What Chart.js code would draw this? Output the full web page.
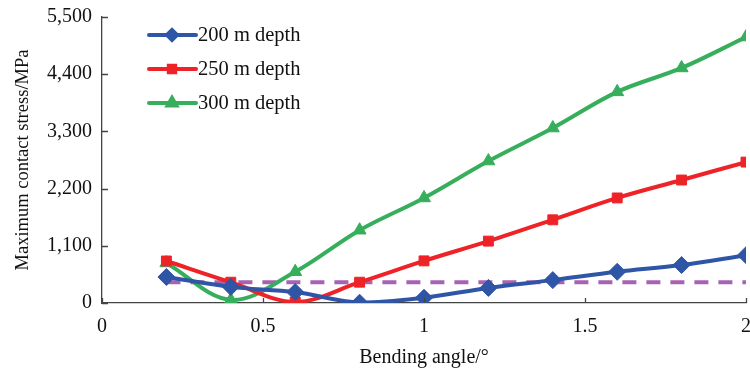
<!DOCTYPE html>
<html>
<head>
<meta charset="utf-8">
<script src="https://cdn.jsdelivr.net/npm/chart.js@4/dist/chart.umd.min.js"></script>
<style>
  html, body { margin: 0; padding: 0; background: #fff; overflow: hidden; }
  #wrap { width: 750px; height: 372px; overflow: hidden; position: relative; }
  #box { width: 770px; height: 372px; position: absolute; left: 0; top: 0; }
</style>
</head>
<body>
<div id="wrap"><div id="box"><canvas id="c"></canvas></div></div>
<script>
const angles = [0.2, 0.4, 0.6, 0.8, 1.0, 1.2, 1.4, 1.6, 1.8, 2.0];
const depth200 = [500, 310, 210, 5, 100, 290, 440, 600, 730, 920];
const depth250 = [808, 400, 20, 400, 810, 1190, 1600, 2020, 2365, 2710];
const depth300 = [770, 60, 600, 1400, 2020, 2730, 3365, 4060, 4520, 5115];
const limitX = [0.2, 2.0];
const limitY = [400, 400];
const seriesNames = ['200 m depth', '250 m depth', '300 m depth'];
const xTicks = [0, 0.5, 1, 1.5, 2];
const yTicks = [0, 1100, 2200, 3300, 4400, 5500];

const FONT = "'Liberation Serif', 'Times New Roman', serif";
const BLUE = '#2f55a6', RED = '#ee2327', GREEN = '#37ae5b', PURPLE = '#a862b4';

const pts = (xs, ys) => xs.map((x, i) => ({ x, y: ys[i] }));

const legendItems = [
  { name: seriesNames[0], color: BLUE, style: 'rectRot', r: 5 },
  { name: seriesNames[1], color: RED, style: 'rect', r: 4.5 },
  { name: seriesNames[2], color: GREEN, style: 'triangle', r: 5 }
];

const customLegend = {
  id: 'customLegend',
  afterDraw(chart) {
    const ctx = chart.ctx;
    ctx.save();
    legendItems.forEach((it, i) => {
      const y = 35 + i * 34;
      ctx.strokeStyle = it.color;
      ctx.lineWidth = 4;
      ctx.lineCap = 'round';
      ctx.beginPath();
      ctx.moveTo(149, y);
      ctx.lineTo(196, y);
      ctx.stroke();
      Chart.helpers.drawPoint(ctx, { pointStyle: it.style, radius: it.r, borderWidth: 1, rotation: 0 }, 172, y);
      ctx.fillStyle = it.color;
      ctx.fill();
      ctx.fillStyle = '#111';
      ctx.font = '20.5px ' + FONT;
      ctx.textBaseline = 'middle';
      ctx.textAlign = 'left';
      ctx.fillText(it.name, 198, y + 1);
    });
    ctx.restore();
  }
};

const innerTicks = {
  id: 'innerTicks',
  afterDatasetsDraw(chart) {
    const ctx = chart.ctx;
    const xs = chart.scales.x, ys = chart.scales.y;
    const a = chart.chartArea;
    ctx.save();
    ctx.strokeStyle = '#444';
    ctx.lineWidth = 1.3;
    ctx.beginPath();
    xTicks.forEach(v => {
      const px = Math.round(xs.getPixelForValue(v)) + 0.5;
      ctx.moveTo(px, a.bottom);
      ctx.lineTo(px, a.bottom - 5);
    });
    yTicks.forEach(v => {
      const py = Math.round(ys.getPixelForValue(v)) + 0.5;
      ctx.moveTo(a.left, py);
      ctx.lineTo(a.left + 6, py);
    });
    ctx.stroke();
    ctx.restore();
  }
};

new Chart(document.getElementById('c'), {
  type: 'line',
  data: {
    datasets: [
      {
        label: 'limit', data: pts(limitX, limitY), borderColor: PURPLE, borderWidth: 4,
        borderDash: [14, 10], pointRadius: 0, tension: 0, order: 4
      },
      {
        label: seriesNames[0], data: pts(angles, depth200), borderColor: BLUE, backgroundColor: BLUE,
        borderWidth: 4, pointStyle: 'rectRot', pointRadius: 8.5, pointBorderWidth: 1, tension: 0.35, order: 1
      },
      {
        label: seriesNames[1], data: pts(angles, depth250), borderColor: RED, backgroundColor: RED,
        borderWidth: 4, pointStyle: 'rect', pointRadius: 7, pointBorderWidth: 1, tension: 0.35, order: 2
      },
      {
        label: seriesNames[2], data: pts(angles, depth300), borderColor: GREEN, backgroundColor: GREEN,
        borderWidth: 4, pointStyle: 'triangle', pointRadius: 7.5, pointBorderWidth: 1, tension: 0.35, order: 3
      }
    ]
  },
  options: {
    responsive: true,
    maintainAspectRatio: false,
    animation: false,
    devicePixelRatio: 1,
    layout: { padding: { left: 0, right: 24, top: 17, bottom: 0 } },
    plugins: { legend: { display: false }, tooltip: { enabled: false } },
    scales: {
      x: {
        type: 'linear', min: 0, max: 2,
        afterFit: s => { s.height = 69; s.paddingLeft = 0; s.paddingRight = 0; },
        afterBuildTicks: s => { s.ticks = xTicks.map(v => ({ value: v })); },
        ticks: { color: '#111', font: { family: FONT, size: 20 }, padding: 12, maxRotation: 0,
                 callback: v => String(v) },
        grid: { display: false, drawTicks: false },
        border: { display: true, color: '#444', width: 1.3 },
        title: { display: true, text: 'Bending angle/°', color: '#111',
                 font: { family: FONT, size: 20 }, padding: { top: 1, bottom: 2 } }
      },
      y: {
        min: 0, max: 5500,
        afterFit: s => { s.width = 102; s.paddingTop = 0; s.paddingBottom = 0; },
        afterBuildTicks: s => { s.ticks = yTicks.map(v => ({ value: v })); },
        ticks: { color: '#111', font: { family: FONT, size: 20 }, padding: 10,
                 callback: v => v.toLocaleString('en-US') },
        grid: { display: false, drawTicks: false },
        border: { display: true, color: '#444', width: 1.3 },
        title: { display: true, text: 'Maximum contact stress/MPa', color: '#111',
                 font: { family: FONT, size: 18.5 }, padding: { top: 12, bottom: 0 } }
      }
    }
  },
  plugins: [innerTicks, customLegend]
});
</script>
</body>
</html>
